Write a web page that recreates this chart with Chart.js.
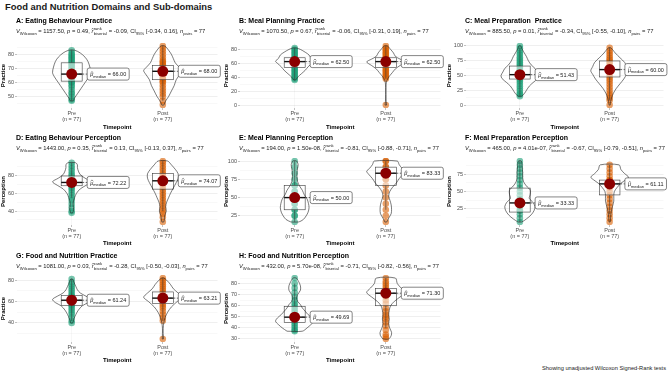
<!DOCTYPE html>
<html><head><meta charset="utf-8">
<script src="https://cdn.jsdelivr.net/npm/chart.js@4.4.1/dist/chart.umd.min.js"></script>
<style>
html,body{margin:0;padding:0;background:#fff;width:669px;height:377px;overflow:hidden;font-family:"Liberation Sans",Arial,sans-serif}
#title{position:absolute;left:5px;top:1px;font-weight:bold;font-size:9.4px;color:#1a1a1a;white-space:nowrap}
#caption{position:absolute;right:3px;top:365px;font-size:5.7px;color:#1a1a1a;white-space:nowrap}
canvas{position:absolute}
</style></head><body>
<div id="title">Food and Nutrition Domains and Sub-domains</div>
<div id="caption">Showing unadjusted Wilcoxon Signed-Rank tests</div>
<script>
// ---------- DATA ----------
const categories = ['Pre', 'Post'];
const groupN = [77, 77];
const panelTitles = ['A: Eating Behaviour Practice','B: Meal Planning Practice','C: Meal Preparation  Practice','D: Eating Behaviour Perception','E: Meal Planning Perception','F: Meal Preparation Perception','G: Food and Nutrition Practice','H: Food and Nutrition Perception'];
const yTitles = ['Practice','Practice','Practice','Perception','Perception','Perception','Practice','Perception'];
const statV = ['1157.50','1070.50','885.50','1443.00','194.00','465.00','1081.00','432.00'];
const statP = ['0.49','0.67','0.01','0.35','1.50e-08','4.01e-07','0.03','5.70e-08'];
const statR = ['-0.09','-0.06','-0.34','0.13','-0.81','-0.67','-0.28','-0.71'];
const statCILow = ['-0.34','-0.31','-0.55','-0.13','-0.88','-0.79','-0.50','-0.82'];
const statCIHigh = ['0.16','0.19','-0.10','0.37','-0.71','-0.51','-0.03','-0.56'];
const nPairs = [77,77,77,77,77,77,77,77];

// tick labels (major)
const aTicks = [50,60,70,80];
const bTicks = [0,20,40,60,80];
const cTicks = [0,25,50,75,100];
const dTicks = [40,60,80];
const eTicks = [25,50,75,100];
const fTicks = [25,50,75];
const gTicks = [40,60,80];
const hTicks = [30,40,50,60,70,80];

// observations (estimated)
const aPre = [47,48,50,52,53,55,57,58,60,60,61,62,63,64,65,66,66,67,68,69,70,71,72,73,74,75,76,77,78,79,80,81,83];
const aPost = [44,47,50,52,54,56,58,60,61,62,63,64,65,66,67,68,68,69,70,71,72,73,74,75,76,78,80,82,84,86];
const bPre = [36,38,40,42,44,46,48,50,52,54,56,58,60,62,62.5,63,64,66,68,70,72,74,76,78,80,82];
const bPost = [0,38,40,42,44,46,48,50,52,54,56,58,60,62,62.5,64,66,68,70,72,74,76,78,80,82,85];
const cPre = [15,18,20,24,28,32,36,40,43,46,48,50,51.43,52,54,56,58,60,63,66,69,72,75,78,81,85,88,92,96,100];
const cPost = [0,8,12,16,20,25,30,35,40,44,48,52,55,58,60,62,65,68,71,74,77,80,84,88,92,97];
const dPre = [38,40,44,48,52,55,58,61,64,66,68,70,71,72.22,73,74,75,76,78,80,82,85,88,91,94.44];
const dPost = [27.78,33,37,40,43,46,49,52,55,58,61,64,67,70,72,74.07,76,78,80,82,85,88,91,94,96.3];
const ePre = [16.67,25,25,33.33,33.33,41.67,41.67,50,50,50,58.33,58.33,66.67,66.67,75,83.33,91.67,100];
const ePost = [16.67,25,33.33,41.67,50,58.33,66.67,75,75,83.33,83.33,83.33,91.67,91.67,100,100];
const fPre = [5.56,11.11,16.67,22.22,22.22,27.78,33.33,33.33,38.89,44.44,50,55.56,61.11,66.67,72.22,77.78,83.33,88.89,94.44];
const fPost = [5.56,11.11,16.67,22.22,27.78,33.33,38.89,44.44,50,55.56,61.11,61.11,66.67,66.67,72.22,77.78,83.33,88.89];
const gPre = [40,42,45,48,50,52,54,56,57,58,59,60,61,61.24,62,63,64,65,66,68,70,72,74,76,78,81];
const gPost = [25,42,45,48,51,54,56,58,60,62,63,63.21,64,65,66,67,68,70,72,74,76,78,80,82];
const hPre = [37,38,40,42,44,46,48,49.69,50,52,54,56,58,60,62,65,68,72,76,80,85];
const hPost = [30,32,34,38,42,45,48,50,52,55,58,62,65,68,70,71.3,72,74,76,78,80,82,85];

// box stats [lower whisker, q1, median, q3, upper whisker]
const aPreBox = [47,61,66.00,74,83], aPostBox = [47,62,68.00,72,86];
const bPreBox = [36,54,62.50,68,82], bPostBox = [38,54,62.50,68,85];
const cPreBox = [15,44,51.43,66,97], cPostBox = [8,47.5,60.00,74.6,97];
const dPreBox = [55,68.5,72.22,79.5,94.44], dPostBox = [40,64.7,74.07,82.4,96.3];
const ePreBox = [16.67,33.33,50.00,66.67,100], ePostBox = [33.33,66.67,83.33,91.67,100];
const fPreBox = [5.56,20,33.33,55,94.44], fPostBox = [16.67,45,61.11,66.67,88.89];
const gPreBox = [42,56.5,61.24,65.5,81], gPostBox = [42,58,63.21,69,82];
const hPreBox = [37,45,49.69,59.5,80], hPostBox = [40,60,71.30,75.5,85];

// violin density profiles [value, relative density]
const aPreV = [[47,0.08],[49,0.15],[52,0.3],[56,0.5],[60,0.7],[64,0.9],[67,1.0],[71,0.95],[75,0.85],[78,0.7],[81,0.45],[83,0.15]];
const aPostV = [[44,0.05],[47,0.15],[50,0.3],[54,0.45],[58,0.6],[62,0.7],[66,0.9],[68.5,1.0],[71,0.85],[74,0.65],[77,0.55],[80,0.45],[83,0.3],[86,0.1]];
const bPreV = [[36,0.05],[40,0.15],[45,0.35],[50,0.55],[55,0.7],[60,0.9],[63,1.0],[67,0.85],[72,0.75],[76,0.55],[80,0.3],[82,0.1]];
const bPostV = [[0,0.04],[5,0.02],[15,0.01],[25,0.01],[33,0.03],[38,0.1],[42,0.2],[47,0.35],[52,0.5],[57,0.75],[62,1.0],[66,0.75],[70,0.5],[75,0.4],[80,0.25],[85,0.08]];
const cPreV = [[15,0.1],[20,0.25],[25,0.35],[32,0.5],[38,0.7],[45,0.95],[50,1.0],[56,0.9],[62,0.8],[68,0.6],[75,0.45],[82,0.35],[90,0.2],[96,0.1],[100,0.05]];
const cPostV = [[0,0.03],[5,0.05],[12,0.1],[20,0.2],[28,0.35],[36,0.55],[44,0.75],[52,0.9],[58,1.0],[65,0.9],[72,0.8],[80,0.55],[88,0.3],[94,0.15],[97,0.05]];
const dPreV = [[38,0.05],[42,0.1],[46,0.08],[50,0.08],[55,0.15],[60,0.25],[65,0.45],[69,0.75],[73,1.0],[77,0.7],[81,0.45],[85,0.35],[89,0.3],[92,0.3],[94.44,0.2]];
const dPostV = [[27.78,0.05],[31,0.08],[35,0.1],[40,0.18],[45,0.15],[50,0.2],[55,0.3],[60,0.4],[66,0.55],[72,0.7],[77,0.8],[82,0.8],[87,0.65],[92,0.45],[96.3,0.25]];
const ePreV = [[16.67,0.2],[20,0.45],[25,0.6],[30,0.7],[36,0.75],[42,0.72],[48,0.65],[54,0.5],[60,0.4],[66,0.25],[72,0.15],[78,0.12],[84,0.12],[90,0.15],[95,0.18],[100,0.1]];
const ePostV = [[16.67,0.05],[22,0.15],[28,0.28],[34,0.3],[40,0.28],[46,0.22],[52,0.15],[58,0.2],[64,0.35],[70,0.55],[76,0.7],[82,0.9],[86,1.0],[90,0.85],[95,0.7],[100,0.6]];
const fPreV = [[5.56,0.1],[10,0.35],[16,0.6],[22,0.75],[28,0.8],[34,0.7],[40,0.5],[46,0.55],[52,0.55],[58,0.35],[64,0.2],[70,0.15],[78,0.15],[86,0.12],[94.44,0.08]];
const fPostV = [[5.56,0.03],[12,0.05],[20,0.08],[28,0.15],[36,0.22],[44,0.22],[50,0.25],[56,0.4],[62,0.6],[67,0.85],[71,1.0],[76,0.8],[82,0.6],[88.89,0.5]];
const gPreV = [[40,0.05],[44,0.12],[48,0.22],[52,0.35],[56,0.55],[59,0.85],[62,1.0],[65,0.75],[68,0.45],[71,0.3],[74,0.22],[78,0.12],[81,0.05]];
const gPostV = [[25,0.03],[30,0.02],[35,0.02],[40,0.05],[45,0.12],[50,0.25],[55,0.45],[60,0.75],[64,1.0],[68,0.8],[72,0.55],[76,0.4],[80,0.2],[82,0.05]];
const hPreV = [[37,0.4],[40,0.65],[43,0.85],[46,1.0],[49,0.9],[52,0.7],[55,0.55],[58,0.4],[61,0.3],[64,0.15],[67,0.1],[70,0.15],[74,0.3],[78,0.3],[82,0.2],[85,0.08]];
const hPostV = [[30,0.15],[33,0.28],[36,0.3],[40,0.2],[44,0.15],[48,0.18],[52,0.15],[56,0.18],[60,0.25],[64,0.45],[68,0.75],[72,1.0],[76,0.8],[80,0.6],[85,0.5]];

// ---------- TABLE FOR THE LIBRARY ----------
const panels = [
  {pre:aPre,post:aPost,preBox:aPreBox,postBox:aPostBox,preV:aPreV,postV:aPostV,ticks:aTicks},
  {pre:bPre,post:bPost,preBox:bPreBox,postBox:bPostBox,preV:bPreV,postV:bPostV,ticks:bTicks},
  {pre:cPre,post:cPost,preBox:cPreBox,postBox:cPostBox,preV:cPreV,postV:cPostV,ticks:cTicks},
  {pre:dPre,post:dPost,preBox:dPreBox,postBox:dPostBox,preV:dPreV,postV:dPostV,ticks:dTicks},
  {pre:ePre,post:ePost,preBox:ePreBox,postBox:ePostBox,preV:ePreV,postV:ePostV,ticks:eTicks},
  {pre:fPre,post:fPost,preBox:fPreBox,postBox:fPostBox,preV:fPreV,postV:fPostV,ticks:fTicks},
  {pre:gPre,post:gPost,preBox:gPreBox,postBox:gPostBox,preV:gPreV,postV:gPostV,ticks:gTicks},
  {pre:hPre,post:hPost,preBox:hPreBox,postBox:hPostBox,preV:hPreV,postV:hPostV,ticks:hTicks}
];

// ---------- LAYOUT / STYLE ----------
const FAM = '"Liberation Sans", Arial, sans-serif';
Chart.defaults.font.family = FAM;
const cols = [{left:0,yW:17,padR:5},{left:223,yW:17,padR:3},{left:446,yW:20,padR:2}];
const rows = [{top:12,h:119,padT:31,xH:23,tDy:-22,sDy:-8},{top:128,h:119,padT:30,xH:22,tDy:-20,sDy:-6},{top:245,h:119,padT:30,xH:22,tDy:-19,sDy:-5}];
const CW = 223;
const VW = 0.21, BW = 0.115;
const colPts = ['rgba(27,158,119,0.6)','rgba(217,95,2,0.6)'];

function hat(ctx, x, y, w){
  ctx.save(); ctx.lineWidth=0.5; ctx.strokeStyle=ctx.fillStyle;
  ctx.beginPath(); ctx.moveTo(x+0.4,y); ctx.lineTo(x+w/2+0.3,y-1.3); ctx.lineTo(x+w+0.2,y); ctx.stroke(); ctx.restore();
}
function drawRich(ctx, x, y, segs, fs){
  const small = fs*0.72;
  ctx.textAlign='left'; ctx.textBaseline='alphabetic';
  for (const s of segs){
    const size = (s.sub||s.sup)? small : fs;
    ctx.font = (s.it?'italic ':'') + size + 'px ' + FAM;
    const dy = s.sub ? fs*0.3 : (s.sup ? -fs*0.45 : 0);
    ctx.fillText(s.t, x, y+dy);
    const w = ctx.measureText(s.t).width;
    if (s.hat) hat(ctx, x, y - fs*0.62, w);
    x += w;
    if (s.sup2){
      ctx.font = small + 'px ' + FAM;
      ctx.fillText(s.sup2, x+0.3, y - fs*0.55);
      ctx.fillText(s.sub2, x+0.3, y + fs*0.3);
      x += Math.max(ctx.measureText(s.sup2).width, ctx.measureText(s.sub2).width) + 0.6;
    }
  }
  return x;
}
function subtitleSegs(i){
  return [
    {t:'V',it:true},{t:'Wilcoxon',sub:true},{t:' = '+statV[i]+', '},{t:'p',it:true},{t:' = '+statP[i]+', '},
    {t:'r',it:true,hat:true,sup2:'rank',sub2:'biserial'},{t:' = '+statR[i]+', CI'},{t:'95%',sub:true},
    {t:' ['+statCILow[i]+', '+statCIHigh[i]+'], '},{t:'n',it:true},{t:'pairs',sub:true},{t:' = '+nPairs[i]}
  ];
}
function violinPath(prof, cx){
  const left = prof.map(([y,w])=>({x:cx-VW*w,y}));
  const right = prof.slice().reverse().map(([y,w])=>({x:cx+VW*w,y}));
  return left.concat(right,[left[0]]);
}

function makeChart(i){
  const P = panels[i];
  const col = cols[i%3], row = rows[Math.floor(i/3)];
  const cv = document.createElement('canvas');
  cv.width = CW; cv.height = row.h;
  cv.style.left = col.left+'px'; cv.style.top = row.top+'px';
  cv.style.width = CW+'px'; cv.style.height = row.h+'px';
  document.body.appendChild(cv);

  const all = P.pre.concat(P.post);
  const dmin = Math.min(...all), dmax = Math.max(...all), ex = (dmax-dmin)*0.05;
  const yMin = dmin-ex, yMax = dmax+ex;
  const step = P.ticks[1]-P.ticks[0];
  const tickVals = [];
  for (let v = P.ticks[0]-step; v <= yMax+1e-9; v += step/2){ if (v >= yMin-1e-9) tickVals.push(+v.toFixed(4)); }
  const isMajor = v => P.ticks.some(t=>Math.abs(t-v)<1e-6);
  const boxes = [P.preBox, P.postBox];

  const plugin = {
    id:'panel'+i,
    afterDatasetDraw(chart, args){
      const ctx = chart.ctx, xs = chart.scales.x, ys = chart.scales.y;
      if (args.index === 3){
        boxes.forEach((b,g)=>{
          const cx = g+1;
          const xl = xs.getPixelForValue(cx-BW), xr = xs.getPixelForValue(cx+BW), xc = xs.getPixelForValue(cx);
          const [lo,q1,med,q3,hi] = b.map(v=>ys.getPixelForValue(v));
          ctx.save();
          ctx.strokeStyle='#3a3a3a'; ctx.lineWidth=0.6;
          ctx.beginPath(); ctx.moveTo(xc,lo); ctx.lineTo(xc,q1); ctx.moveTo(xc,q3); ctx.lineTo(xc,hi); ctx.stroke();
          ctx.fillStyle='rgba(255,255,255,0.55)'; ctx.fillRect(xl,q3,xr-xl,q1-q3);
          ctx.strokeRect(xl,q3,xr-xl,q1-q3);
          ctx.strokeStyle='#111'; ctx.lineWidth=1.4;
          ctx.beginPath(); ctx.moveTo(xl,med); ctx.lineTo(xr,med); ctx.stroke();
          ctx.restore();
        });
      }
      if (args.index === 1){
        boxes.forEach((b,g)=>{
          const cx = g+1;
          const x0 = xs.getPixelForValue(cx), x1 = xs.getPixelForValue(cx+0.17), y = ys.getPixelForValue(b[2]);
          ctx.save(); ctx.strokeStyle='#222'; ctx.lineWidth=0.7; ctx.setLineDash([2,1.5]);
          ctx.beginPath(); ctx.moveTo(x0,y); ctx.lineTo(x1,y); ctx.stroke(); ctx.restore();
        });
      }
    },
    afterDatasetsDraw(chart){
      const ctx = chart.ctx, xs = chart.scales.x, ys = chart.scales.y;
      const fs = 5.5;
      boxes.forEach((b,g)=>{
        const cx = g+1;
        const txt = ' = ' + b[2].toFixed(2);
        ctx.save();
        ctx.font = 'italic '+fs+'px '+FAM; const w1 = ctx.measureText('μ').width;
        ctx.font = (fs*0.72)+'px '+FAM; const w2 = ctx.measureText('median').width;
        ctx.font = fs+'px '+FAM; const w3 = ctx.measureText(txt).width;
        const bw = w1+w2+w3+6, bh = 12;
        const x0 = xs.getPixelForValue(cx+0.17), yc = ys.getPixelForValue(b[2]);
        ctx.fillStyle='#fff'; ctx.strokeStyle='#333'; ctx.lineWidth=0.6;
        ctx.beginPath(); ctx.roundRect(x0, yc-bh/2, bw, bh, 2); ctx.fill(); ctx.stroke();
        ctx.fillStyle='#1a1a1a';
        drawRich(ctx, x0+3, yc+2.2, [{t:'μ',it:true,hat:true},{t:'median',sub:true},{t:txt}], fs);
        ctx.restore();
      });
    },
    afterDraw(chart){
      const ctx = chart.ctx, ca = chart.chartArea;
      ctx.save();
      ctx.fillStyle='#000'; ctx.font='bold 7px '+FAM; ctx.textBaseline='middle'; ctx.textAlign='left';
      ctx.fillText(panelTitles[i], ca.left-1, ca.top+row.tDy);
      ctx.fillStyle='#1a1a1a';
      drawRich(ctx, ca.left-1, ca.top+row.sDy-2, subtitleSegs(i), 5.8);
      ctx.restore();
    }
  };

  new Chart(cv, {
    type:'scatter',
    data:{datasets:[
      {data:[{x:1,y:P.preBox[2]},{x:2,y:P.postBox[2]}], pointRadius:5.5, pointHoverRadius:5.5, backgroundColor:'#8B0000', borderWidth:0},
      {data:violinPath(P.preV,1), showLine:true, tension:0.3, borderColor:'#222', borderWidth:0.6, pointRadius:0, fill:false},
      {data:violinPath(P.postV,2), showLine:true, tension:0.3, borderColor:'#222', borderWidth:0.6, pointRadius:0, fill:false},
      {data:P.pre.map(y=>({x:1,y})), pointRadius:3.3, backgroundColor:colPts[0], borderWidth:0},
      {data:P.post.map(y=>({x:2,y})), pointRadius:3.3, backgroundColor:colPts[1], borderWidth:0}
    ]},
    options:{
      animation:false, responsive:false, events:[],
      layout:{padding:{top:row.padT,right:col.padR,left:0,bottom:0}},
      plugins:{legend:{display:false},tooltip:{enabled:false},title:{display:false}},
      scales:{
        x:{type:'linear',min:0.4,max:2.6,
          afterBuildTicks:s=>{s.ticks=[{value:1},{value:2}];},
          ticks:{callback:(v)=>[categories[v-1],'(n = '+groupN[v-1]+')'],font:{size:5.5,lineHeight:1.2},color:'#4d4d4d',padding:0,maxRotation:0,autoSkip:false},
          grid:{color:'rgba(0,0,0,0.06)',lineWidth:0.6,tickLength:2,tickColor:'#999'},
          border:{display:false},
          title:{display:true,text:'Timepoint',font:{size:6,weight:'bold'},color:'#000',padding:0},
          afterFit:s=>{s.height=row.xH;}
        },
        y:{type:'linear',min:yMin,max:yMax,
          afterBuildTicks:s=>{s.ticks=tickVals.map(v=>({value:v}));},
          ticks:{callback:(v)=>isMajor(v)?String(v):'',font:{size:5.5},color:'#4d4d4d',padding:1,autoSkip:false},
          grid:{color:c=>(c.tick&&isMajor(c.tick.value))?'rgba(0,0,0,0.11)':'rgba(0,0,0,0.05)',
                tickColor:c=>(c.tick&&isMajor(c.tick.value))?'#999':'rgba(0,0,0,0)',
                lineWidth:0.6,tickLength:2},
          border:{display:false},
          title:{display:true,text:yTitles[i],font:{size:6,weight:'bold'},color:'#000',padding:0},
          afterFit:s=>{s.width=col.yW;}
        }
      }
    },
    plugins:[plugin]
  });
}
for (let i=0;i<panels.length;i++) makeChart(i);
</script>
</body></html>
